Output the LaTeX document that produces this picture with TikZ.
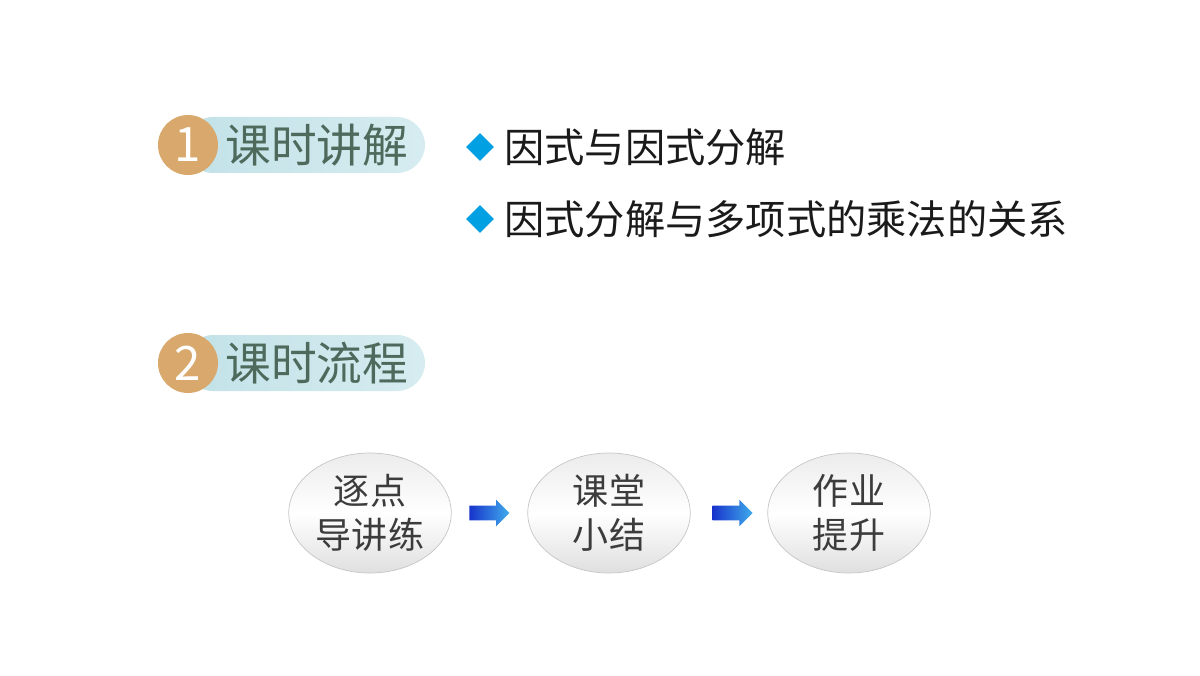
\documentclass[tikz,border=0pt]{standalone}
\usepackage{fontspec}
\setmainfont{Noto Sans CJK SC}
\usepackage{xcolor}
\usetikzlibrary{shapes.geometric, shapes.arrows, arrows.meta, positioning, calc}
\definecolor{badgetan}{RGB}{216, 168, 108}
\definecolor{pillblue}{RGB}{194, 226, 232}
\definecolor{pilllight}{RGB}{214, 236, 240}
\definecolor{titlegreen}{RGB}{78, 106, 92}
\definecolor{bulletblue}{RGB}{0, 160, 226}
\definecolor{darktext}{RGB}{26, 26, 26}
\definecolor{arrowdark}{RGB}{24, 52, 204}
\definecolor{arrowlight}{RGB}{64, 172, 236}

\begin{document}
\begin{tikzpicture}[
    pill/.style={rectangle, rounded corners=0.56cm, left color=pillblue,
                 right color=pilllight, draw=none,
                 minimum width=4.8cm, minimum height=1.12cm},
    badge/.style={circle, fill=badgetan, minimum size=1.2cm, inner sep=0pt,
                  text=white, font=\fontsize{27}{30}\selectfont},
    title/.style={anchor=west, inner sep=0pt, text=titlegreen,
                  font=\fontsize{26}{30}\selectfont},
    bullet/.style={diamond, fill=bulletblue, minimum size=0.56cm, inner sep=0pt},
    item/.style={anchor=west, inner sep=0pt, text=darktext,
                 font=\fontsize{22.9}{27}\selectfont},
    stage/.style={ellipse, draw=gray!45, top color=gray!15, bottom color=gray!25,
                  middle color=white, minimum width=3.25cm, minimum height=2.4cm,
                  align=center, inner sep=0pt, text=darktext!85,
                  font=\fontsize{20.5}{25}\selectfont},
    flow/.style={single arrow, draw=none, left color=arrowdark, right color=arrowlight,
                 minimum height=0.8cm, inner xsep=0pt, inner ysep=0.14cm,
                 single arrow head extend=0.12cm, text height=0pt, text depth=0pt}
]
\useasboundingbox (0,0) rectangle (24,13.5);

%% Section 1 header
\node[pill]  (P1) at (6.1, 10.6) {};
\node[badge] (B1) at (3.76, 10.6) {1};
\node[title] (T1) at (4.5, 10.6) {课时讲解};

%% Section 1 items
\node[bullet] (D1) at (9.6, 10.56) {};
\node[item]   (I1) at (10.08, 10.56) {因式与因式分解};
\node[bullet] (D2) at (9.6, 9.12) {};
\node[item]   (I2) at (10.08, 9.12) {因式分解与多项式的乘法的关系};

%% Section 2 header
\node[pill]  (P2) at (6.1, 6.24) {};
\node[badge] (B2) at (3.76, 6.24) {2};
\node[title] (T2) at (4.5, 6.24) {课时流程};

%% Flow of the lesson
\node[stage] (S1) at (7.4,   3.24) {逐点\\导讲练};
\node[stage] (S2) at (12.18, 3.24) {课堂\\小结};
\node[stage] (S3) at (16.98, 3.24) {作业\\提升};

\node[flow] (A1) at ($(S1.east)!0.45!(S2.west)$) {};
\node[flow] (A2) at ($(S2.east)!0.5!(S3.west)$) {};

\end{tikzpicture}
\end{document}
